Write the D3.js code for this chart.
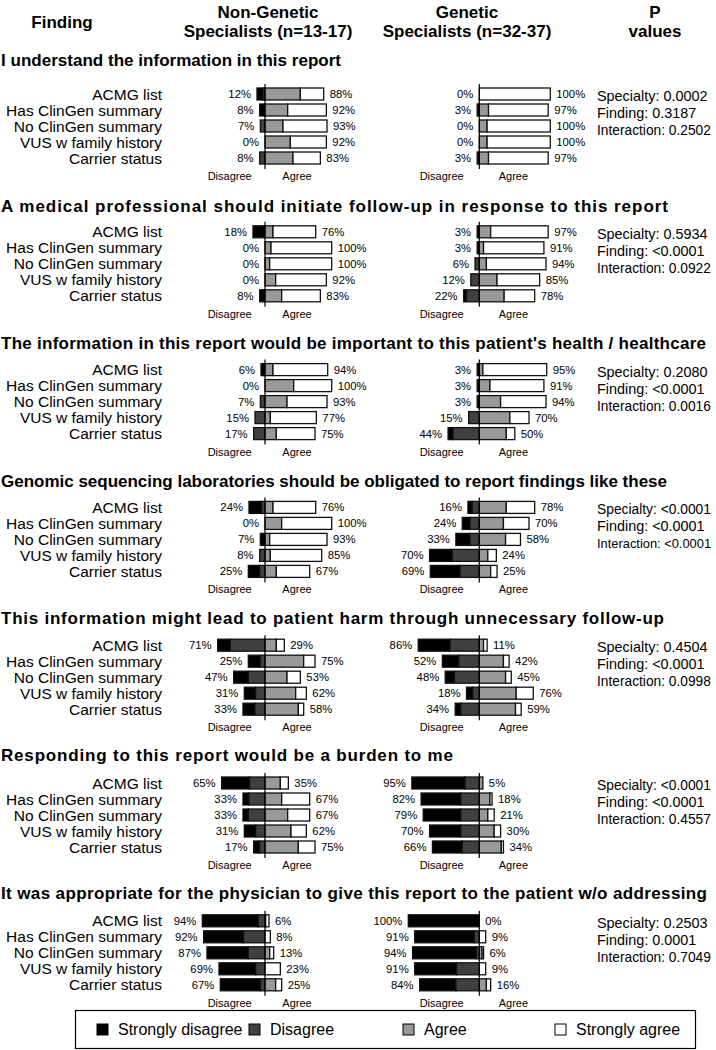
<!DOCTYPE html>
<html><head><meta charset="utf-8">
<script src="https://cdn.jsdelivr.net/npm/d3@7"></script>
<style>body{margin:0;background:#fff} svg{font-family:"Liberation Sans",Arial,Helvetica,sans-serif}</style>
</head><body><svg id="c" width="716" height="1050"></svg>
<script>
const findings = ["ACMG list","Has ClinGen summary","No ClinGen summary","VUS w family history","Carrier status"];
const questions = [
  "I understand the information in this report",
  "A medical professional should initiate follow-up in response to this report",
  "The information in this report would be important to this patient's health / healthcare",
  "Genomic sequencing laboratories should be obligated to report findings like these",
  "This information might lead to patient harm through unnecessary follow-up",
  "Responding to this report would be a burden to me",
  "It was appropriate for the physician to give this report to the patient w/o addressing"
];
const levels = ["Strongly disagree","Disagree","Agree","Strongly agree"];
const groups = ["Non-Genetic|Specialists (n=13-17)","Genetic|Specialists (n=32-37)"];
// [strongly disagree, disagree, agree, strongly agree] per finding
const nonGenetic = [
  [[9,3,53,35],[8,0,34,58],[0,7,27,66],[0,0,38,54],[0,8,42,41]],
  [[18,0,12,64],[0,0,9,91],[0,0,7,93],[0,0,16,76],[8,0,25,58]],
  [[6,0,12,82],[0,0,43,57],[0,7,33,60],[0,15,8,69],[0,17,17,58]],
  [[19,5,12,64],[0,0,25,75],[7,0,7,86],[0,8,8,77],[17,8,17,50]],
  [[19,52,17,12],[18,7,58,17],[22,25,33,20],[17,14,46,16],[18,15,50,8]],
  [[42,23,23,12],[9,24,25,42],[8,25,34,33],[17,14,39,23],[9,8,50,25]],
  [[84,10,1,5],[60,32,0,8],[62,25,7,6],[55,14,0,23],[60,7,16,9]]
];
const genetic = [
  [[0,0,0,100],[3,0,13,84],[0,0,11,89],[0,0,11,89],[3,0,13,84]],
  [[3,0,16,81],[3,0,6,85],[0,6,10,84],[0,12,25,60],[4,18,35,43]],
  [[3,0,5,90],[3,0,15,76],[3,0,30,64],[0,15,43,27],[7,37,38,12]],
  [[6,10,38,40],[11,13,34,36],[20,13,37,21],[32,38,12,12],[42,27,16,9]],
  [[45,41,6,5],[23,29,34,8],[13,35,37,8],[9,9,52,24],[8,26,51,8]],
  [[75,20,5,0],[56,26,15,3],[53,26,12,9],[44,26,21,9],[42,24,31,3]],
  [[100,0,0,0],[84,7,0,9],[90,4,4,2],[59,32,0,9],[51,33,10,6]]
];
const pLabels = ["Specialty","Finding","Interaction"];
const pValues = [
  ["0.0002","0.3187","0.2502"],
  ["0.5934","<0.0001","0.0922"],
  ["0.2080","<0.0001","0.0016"],
  ["<0.0001","<0.0001","<0.0001"],
  ["0.4504","<0.0001","0.0998"],
  ["<0.0001","<0.0001","0.4557"],
  ["0.2503","0.0001","0.7049"]
];
const colors = ["#000000","#404040","#999999","#ffffff"];

// layout (not data)
const titleWidths = [340,667,705,666,663,452,706];
const titleOff = [-34,-26,-27,-26,-27,-28,-28];

const svg = d3.select("#c");
const xL = d3.scaleLinear().domain([-100,100]).range([265-66.7,265+66.7]);
const xR = d3.scaleLinear().domain([-100,100]).range([479.3-71,479.3+71]);
const color = d3.scaleOrdinal().domain(levels).range(colors);
const panelY = d3.scaleLinear().domain([0,1]).range([94,94+137.8]);
const rowY = d3.scalePoint().domain(findings).range([0,64]);
const barH = 12;

// header
const hdr = svg.append("g").attr("font-weight","bold").attr("font-size",17).attr("text-anchor","middle");
hdr.append("text").attr("x",62).attr("y",28).text("Finding");
[[268,groups[0]],[467,groups[1]]].forEach(([cx,t])=>{
  const [a,b]=t.split("|");
  hdr.append("text").attr("x",cx).attr("y",18).text(a);
  hdr.append("text").attr("x",cx).attr("y",37).text(b);
});
hdr.append("text").attr("x",655).attr("y",18).text("P");
hdr.append("text").attr("x",655).attr("y",37).text("values");

questions.forEach((q,qi)=>{
  const y0 = panelY(qi);
  const g = svg.append("g").attr("transform",`translate(0,${y0})`);
  g.append("text").attr("x",1).attr("y",titleOff[qi]+6).attr("font-weight","bold").attr("font-size",17)
    .attr("textLength",titleWidths[qi]).attr("lengthAdjust","spacing").text(q);
  g.selectAll("text.rl").data(findings).join("text").attr("class","rl")
    .attr("x",162).attr("y",d=>rowY(d)+5.5)
    .attr("text-anchor","end").attr("font-size",15.5).text(d=>d);
  [[nonGenetic[qi],xL],[genetic[qi],xR]].forEach(([rows,x])=>{
    rows.forEach((v,ri)=>{
      const f = findings[ri];
      const segs = [
        {k:levels[0],x0:-(v[0]+v[1]),x1:-v[1]},
        {k:levels[1],x0:-v[1],x1:0},
        {k:levels[2],x0:0,x1:v[2]},
        {k:levels[3],x0:v[2],x1:v[2]+v[3]}
      ].filter(s=>s.x1>s.x0);
      const yy = rowY(f)-barH/2;
      g.selectAll(null).data(segs).join("rect")
        .attr("x",s=>x(s.x0)).attr("width",s=>x(s.x1)-x(s.x0))
        .attr("y",yy).attr("height",barH)
        .attr("fill",s=>color(s.k)).attr("stroke","#111").attr("stroke-width",1.3);
      g.append("text").attr("x",x(-(v[0]+v[1]))-6).attr("y",rowY(f)+4)
        .attr("text-anchor","end").attr("font-size",11.3).text((v[0]+v[1])+"%");
      g.append("text").attr("x",x(v[2]+v[3])+6).attr("y",rowY(f)+4)
        .attr("text-anchor","start").attr("font-size",11.3).text((v[2]+v[3])+"%");
    });
    g.append("line").attr("x1",x(0)).attr("x2",x(0))
      .attr("y1",rowY(findings[0])-10).attr("y2",rowY(findings[4])+11)
      .attr("stroke","#000").attr("stroke-width",1.2);
    g.append("text").attr("x",x(-53)).attr("y",rowY(findings[4])+22)
      .attr("text-anchor","middle").attr("font-size",11).text("Disagree");
    g.append("text").attr("x",x(48)).attr("y",rowY(findings[4])+22)
      .attr("text-anchor","middle").attr("font-size",11).text("Agree");
  });
  g.selectAll("text.pv").data(pValues[qi]).join("text").attr("class","pv")
    .attr("x",597).attr("y",(d,i)=>7+i*17).attr("font-size",14.4)
    .text((d,i)=>pLabels[i]+": "+d)
    .each(function(){
      const w = this.getComputedTextLength();
      if (w > 114) d3.select(this).attr("font-size", 14.4*114/w);
    });
});

// legend
const lg = svg.append("g");
lg.append("rect").attr("x",75.5).attr("y",1010.5).attr("width",620).attr("height",38)
  .attr("fill","none").attr("stroke","#000").attr("stroke-width",1.2);
const legX = d3.scaleOrdinal().domain(levels).range([97,249,403,555]);
levels.forEach(l=>{
  lg.append("rect").attr("x",legX(l)).attr("y",1024).attr("width",11).attr("height",11)
    .attr("fill",color(l)).attr("stroke","#000").attr("stroke-width",1);
  lg.append("text").attr("x",legX(l)+21).attr("y",1035).attr("font-size",16).text(l);
});
</script></body></html>
